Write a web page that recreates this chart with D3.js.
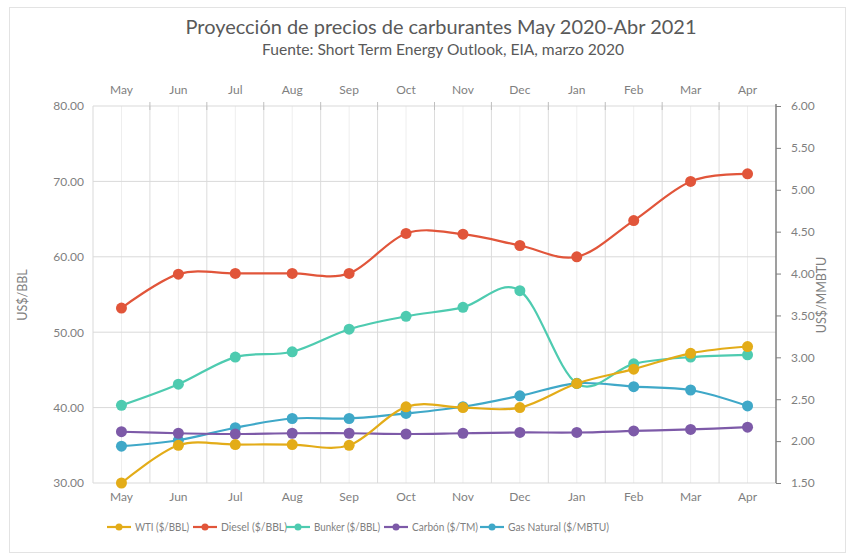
<!DOCTYPE html>
<html><head><meta charset="utf-8">
<script src="https://cdn.jsdelivr.net/npm/d3@7"></script>
<style>body{margin:0;background:#fff}svg{display:block;font-family:Lato,"Open Sans",sans-serif}</style>
</head><body><svg id="c" width="848" height="554"></svg>
<script>
const months = ["May","Jun","Jul","Aug","Sep","Oct","Nov","Dec","Jan","Feb","Mar","Apr"];
const wti    = [30.0,35.0,35.1,35.1,35.0,40.1,40.0,40.0,43.2,45.1,47.2,48.1];
const diesel = [53.2,57.7,57.8,57.8,57.8,63.1,63.0,61.5,60.0,64.8,70.0,71.0];
const bunker = [40.3,43.1,46.7,47.4,50.4,52.1,53.3,55.5,43.2,45.8,46.7,47.0];
const carbon = [36.8,36.6,36.5,36.6,36.6,36.5,36.6,36.7,36.7,36.9,37.1,37.4];
const gas    = [1.94,2.01,2.16,2.27,2.27,2.33,2.41,2.54,2.69,2.65,2.61,2.42];
const leftTicks  = [30,40,50,60,70,80];
const rightTicks = [1.5,2.0,2.5,3.0,3.5,4.0,4.5,5.0,5.5,6.0];

const series = [
  {name:"WTI ($/BBL)", values:wti, color:"#E3AC18", axis:"L"},
  {name:"Diesel ($/BBL)", values:diesel, color:"#E1553A", axis:"L"},
  {name:"Bunker ($/BBL)", values:bunker, color:"#4ECBB0", axis:"L"},
  {name:"Carbón ($/TM)", values:carbon, color:"#7D5AA8", axis:"L"},
  {name:"Gas Natural ($/MBTU)", values:gas, color:"#3FA8C8", axis:"R"}
];

const svg = d3.select("#c");
const L=93, R=776, T=106, B=483;
const x = d3.scaleBand().domain(months).range([L,R]);
const yL = d3.scaleLinear().domain([30,80]).range([B,T]);
const yR = d3.scaleLinear().domain([1.5,6]).range([B,T]);
const cx = m => x(m)+x.bandwidth()/2;

svg.append("rect").attr("x",9.5).attr("y",7.5).attr("width",836).attr("height",545)
  .attr("fill","#fff").attr("stroke","#e3e3e3");

svg.append("text").attr("x",441).attr("y",34).attr("text-anchor","middle")
  .attr("font-size",20).attr("fill","#595959").attr("textLength",511).attr("lengthAdjust","spacingAndGlyphs")
  .text("Proyección de precios de carburantes May 2020-Abr 2021");
svg.append("text").attr("x",443).attr("y",55).attr("text-anchor","middle")
  .attr("font-size",14.5).attr("fill","#595959").attr("textLength",362).attr("lengthAdjust","spacingAndGlyphs")
  .text("Fuente: Short Term Energy Outlook, EIA, marzo 2020");

const g = svg.append("g");
const bounds = months.map(m=>x(m)).slice(1);
g.selectAll(".vb").data(bounds).enter().append("line")
  .attr("x1",d=>d).attr("x2",d=>d).attr("y1",T).attr("y2",B).attr("stroke","#dcdcdc");
g.selectAll(".vc").data(months).enter().append("line")
  .attr("x1",d=>cx(d)).attr("x2",d=>cx(d)).attr("y1",T).attr("y2",B).attr("stroke","#eeeeee");
g.selectAll(".h").data(leftTicks).enter().append("line")
  .attr("x1",L).attr("x2",R).attr("y1",d=>yL(d)).attr("y2",d=>yL(d)).attr("stroke","#d9d9d9");
g.append("line").attr("x1",L).attr("x2",L).attr("y1",T).attr("y2",B).attr("stroke","#d9d9d9");

const axL = svg.append("g").attr("transform",`translate(${L},0)`)
  .call(d3.axisLeft(yL).tickValues(leftTicks).tickFormat(d3.format(".2f")).tickSize(0).tickPadding(9));
axL.select(".domain").remove();
axL.selectAll("text").attr("font-size",12).attr("fill","#7f7f7f").attr("font-family","Lato,sans-serif");

const axR = svg.append("g").attr("transform",`translate(${R},0)`)
  .call(d3.axisRight(yR).tickValues(rightTicks).tickFormat(d3.format(".2f")).tickSize(5).tickPadding(10));
axR.select(".domain").attr("stroke","#7f7f7f").attr("stroke-width",1.5).attr("d",`M0,${T-2}V${B}`);
axR.selectAll("line").attr("stroke","#7f7f7f");
axR.selectAll("text").attr("font-size",12).attr("fill","#7f7f7f").attr("font-family","Lato,sans-serif");

const axB = svg.append("g").attr("transform",`translate(0,${B})`)
  .call(d3.axisBottom(x).tickSize(0).tickPadding(9));
axB.select(".domain").remove();
axB.selectAll("text").attr("font-size",12).attr("fill","#7f7f7f").attr("font-family","Lato,sans-serif");

const axT = svg.append("g").attr("transform",`translate(0,${T})`)
  .call(d3.axisTop(x).tickSize(0).tickPadding(12));
axT.select(".domain").remove();
axT.selectAll("text").attr("font-size",12).attr("fill","#7f7f7f").attr("font-family","Lato,sans-serif");
svg.selectAll(".tt").data(bounds).enter().append("line")
  .attr("x1",d=>d).attr("x2",d=>d).attr("y1",T-4).attr("y2",T+4).attr("stroke","#bfbfbf");

svg.append("text").attr("transform","translate(27,295) rotate(-90)").attr("text-anchor","middle")
  .attr("font-size",12.5).attr("fill","#7f7f7f").text("US$/BBL");
svg.append("text").attr("transform","translate(826,295) rotate(-90)").attr("text-anchor","middle")
  .attr("font-size",12.5).attr("fill","#7f7f7f").text("US$/MMBTU");

const draw = [series[4],series[3],series[2],series[0],series[1]];
draw.forEach(s=>{
  const ys = s.axis==="L"?yL:yR;
  const line = d3.line().x((d,i)=>cx(months[i])).y(d=>ys(d)).curve(d3.curveCardinal.tension(0));
  svg.append("path").attr("d",line(s.values)).attr("fill","none").attr("stroke",s.color).attr("stroke-width",2.2);
  svg.selectAll(null).data(s.values).enter().append("circle")
    .attr("cx",(d,i)=>cx(months[i])).attr("cy",d=>ys(d)).attr("r",5.5).attr("fill",s.color);
});

// legend
const lx = [107,193,286,384,480];
const lw = [54,66,66,66,101];
const lg = svg.append("g").attr("transform","translate(0,527)");
series.forEach((s,i)=>{
  lg.append("line").attr("x1",lx[i]).attr("x2",lx[i]+24).attr("y1",0).attr("y2",0).attr("stroke",s.color).attr("stroke-width",2.2);
  lg.append("circle").attr("cx",lx[i]+12).attr("cy",0).attr("r",3.5).attr("fill",s.color);
  lg.append("text").attr("x",lx[i]+28).attr("y",4).attr("font-size",11.5).attr("fill","#7f7f7f")
    .attr("textLength",lw[i]).attr("lengthAdjust","spacingAndGlyphs").text(s.name);
});
</script></body></html>
